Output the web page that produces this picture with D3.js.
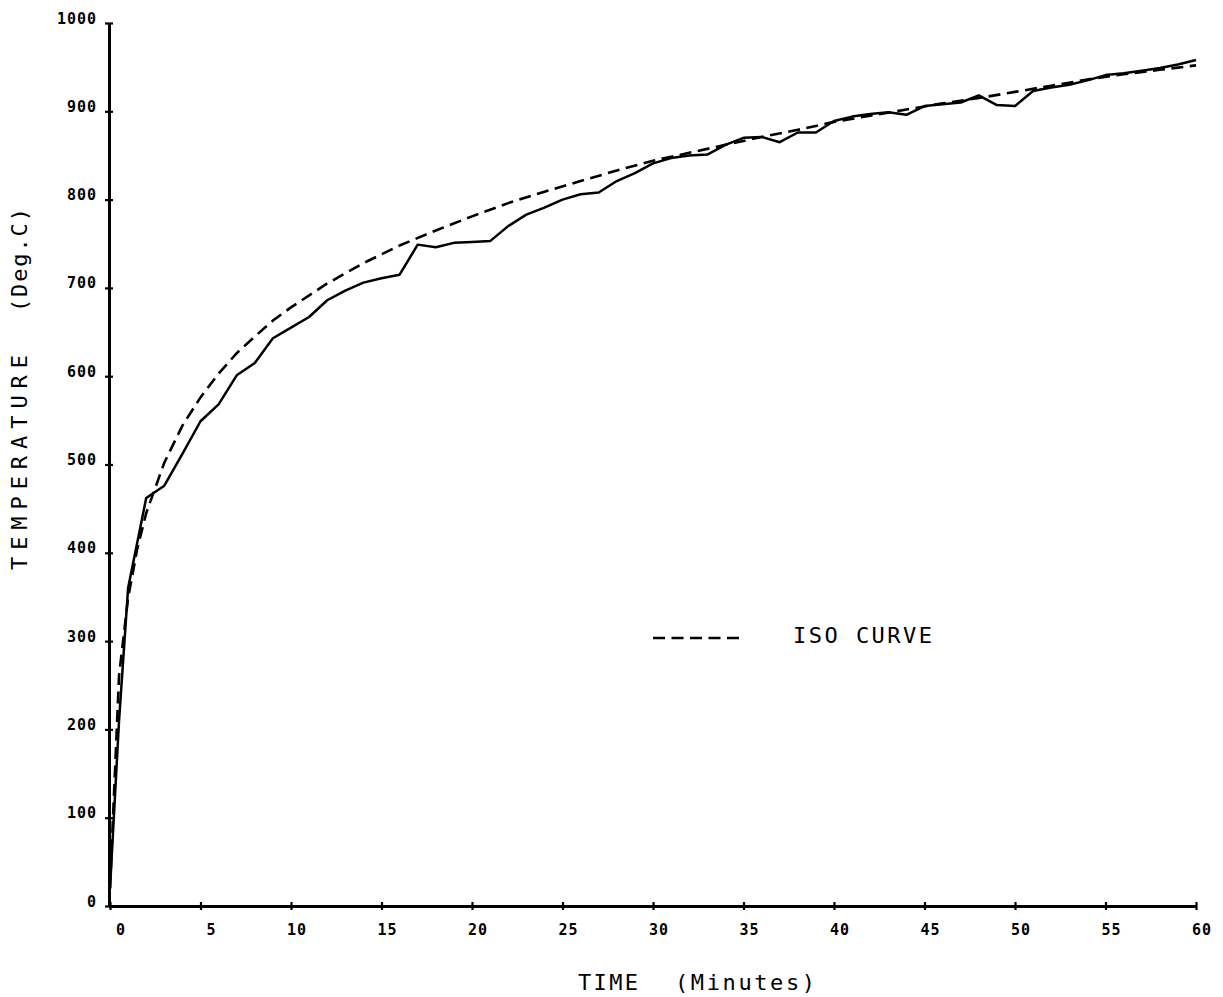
<!DOCTYPE html>
<html>
<head>
<meta charset="utf-8">
<script src="https://cdn.jsdelivr.net/npm/d3@7"></script>
<style>
  html, body { margin: 0; padding: 0; background: #fff; }
  svg { display: block; }
</style>
</head>
<body>
<svg id="chart" width="1223" height="997"></svg>
<script>
// ---- Data ----
const furnaceTime = [0, 0.5, 1, 2, 3, 4, 5, 6, 7, 8, 9, 10, 11, 12, 13, 14, 15, 16, 17, 18, 19, 20,
  21, 22, 23, 24, 25, 26, 27, 28, 29, 30, 31, 32, 33, 34, 35, 36, 37, 38, 39, 40,
  41, 42, 43, 44, 45, 46, 47, 48, 49, 50, 51, 52, 53, 54, 55, 56, 57, 58, 59, 60];
const furnaceTemp = [20, 210, 360, 462, 476, 512, 549, 568, 601, 615, 643, 655, 667, 686, 697, 706, 711, 715, 749, 746, 751, 752,
  753, 770, 783, 791, 800, 806, 808, 821, 830, 841, 847, 850, 851, 862, 870, 871, 865, 876, 876, 889,
  894, 897, 899, 896, 906, 908, 910, 918, 907, 906, 923, 927, 930, 935, 941, 943, 946, 949, 953, 958];

const isoTime = [0, 0.5, 1, 1.5, 2, 3, 4, 5, 6, 7, 8, 9, 10, 12, 14, 16, 18, 20, 22, 24, 26, 28, 30,
  32, 34, 36, 38, 40, 42, 44, 46, 48, 50, 52, 54, 56, 58, 60];
const isoTemp = [20, 261, 349, 404, 445, 502, 544, 576, 603, 626, 645, 663, 678, 705, 728, 748, 765, 781, 796, 809, 821, 833, 844,
  853, 862, 871, 879, 888, 895, 902, 909, 915, 922, 929, 936, 942, 947, 952];

const xTickValues = [0, 5, 10, 15, 20, 25, 30, 35, 40, 45, 50, 55, 60];
const yTickValues = [0, 100, 200, 300, 400, 500, 600, 700, 800, 900, 1000];

const xTitleWords = ["TIME", "(Minutes)"];
const yTitleWords = ["TEMPERATURE", "(Deg.C)"];
const legendLabel = "ISO CURVE";

// ---- Build ----
const furnace = furnaceTime.map((t, i) => ({ t, v: furnaceTemp[i] }));
const iso = isoTime.map((t, i) => ({ t, v: isoTemp[i] }));

const svg = d3.select("#chart");
const FONT = "'DejaVu Sans Mono', 'Liberation Mono', monospace";

const x = d3.scaleLinear().domain([0, 60]).range([110, 1196]);
const y = d3.scaleLinear().domain([0, 1000]).range([906, 23]);

// X axis
const gx = svg.append("g").attr("transform", `translate(0,${y(0)})`)
  .call(d3.axisBottom(x).tickValues(xTickValues).tickSize(4).tickSizeOuter(0).tickFormat(d3.format("d")));
gx.select(".domain").attr("stroke", "#000").attr("stroke-width", 3);
gx.selectAll(".tick line").attr("y1", -4).attr("y2", 4).attr("stroke", "#000").attr("stroke-width", 2.2);
gx.selectAll(".tick text")
  .attr("x", 15.5).attr("y", 29).attr("dy", 0)
  .attr("text-anchor", "end")
  .attr("font-family", FONT).attr("font-size", 15).attr("font-weight", "bold")
  .attr("letter-spacing", 1).attr("fill", "#000");

// Y axis
const gy = svg.append("g").attr("transform", `translate(${x(0) - 1},0)`)
  .call(d3.axisLeft(y).tickValues(yTickValues).tickSize(4).tickSizeOuter(0).tickFormat(d3.format("d")));
gy.select(".domain").attr("stroke", "#000").attr("stroke-width", 3);
gy.selectAll(".tick line").attr("x1", -4).attr("x2", 4).attr("stroke", "#000").attr("stroke-width", 2.2);
gy.selectAll(".tick text")
  .attr("x", -12).attr("y", 0).attr("dy", 0)
  .attr("text-anchor", "end")
  .attr("font-family", FONT).attr("font-size", 15).attr("font-weight", "bold")
  .attr("letter-spacing", 1).attr("fill", "#000");

// Lines
const line = d3.line().x(d => x(d.t)).y(d => y(d.v));

svg.append("path").datum(iso)
  .attr("d", line)
  .attr("fill", "none").attr("stroke", "#000").attr("stroke-width", 2.6)
  .attr("stroke-dasharray", "12,6.5");

svg.append("path").datum(furnace)
  .attr("d", line)
  .attr("fill", "none").attr("stroke", "#000").attr("stroke-width", 2.5)
  .attr("stroke-linejoin", "round");

// Axis titles
const titleStyle = sel => sel.attr("font-family", FONT).attr("font-size", 22).attr("fill", "#000")
  .attr("lengthAdjust", "spacing");

svg.append("text").attr("x", 578).attr("y", 990).attr("textLength", 60)
  .call(titleStyle).text(xTitleWords[0]);
svg.append("text").attr("x", 675).attr("y", 990).attr("textLength", 140)
  .call(titleStyle).text(xTitleWords[1]);

const yt = svg.append("g").attr("transform", "translate(27,0) rotate(-90)");
yt.append("text").attr("x", -570).attr("y", 0).attr("textLength", 215)
  .call(titleStyle).text(yTitleWords[0]);
yt.append("text").attr("x", -312).attr("y", 0).attr("textLength", 104)
  .call(titleStyle).text(yTitleWords[1]);

// Legend
svg.append("line")
  .attr("x1", 653).attr("x2", 745).attr("y1", 638).attr("y2", 638)
  .attr("stroke", "#000").attr("stroke-width", 2.6)
  .attr("stroke-dasharray", "12,6.5");

svg.append("text")
  .attr("x", 793).attr("y", 643)
  .attr("textLength", 139).attr("lengthAdjust", "spacing")
  .attr("font-family", FONT).attr("font-size", 22).attr("fill", "#000")
  .text(legendLabel);
</script>
</body>
</html>
